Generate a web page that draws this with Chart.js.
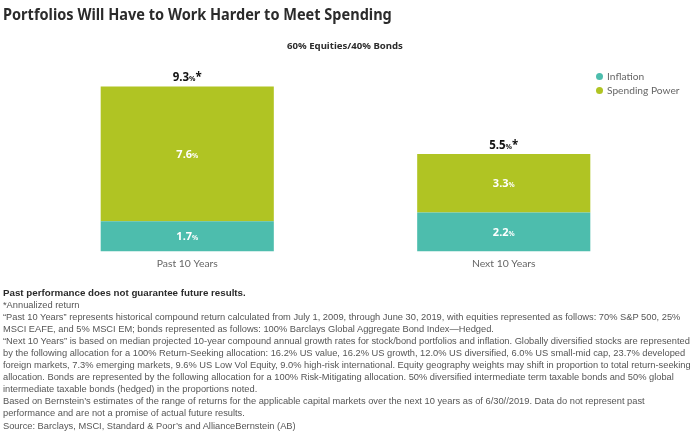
<!DOCTYPE html>
<html>
<head>
<meta charset="utf-8">
<title>Portfolios Will Have to Work Harder to Meet Spending</title>
<script src="https://cdn.jsdelivr.net/npm/chart.js@4"></script>
<style>
  html, body { margin: 0; padding: 0; background: #fff; width: 690px; height: 433px; overflow: hidden; }
  #wrap { position: absolute; left: 0; top: 0; width: 690px; height: 433px; }
  #title { position: absolute; left: 3px; top: 2px; font: bold 16.6px "Noto Sans", sans-serif; color: #2b2b2b; white-space: nowrap; transform: scaleX(0.875); transform-origin: left top; }
  #subtitle { position: absolute; left: 0; width: 690px; top: 39px; text-align: center; font: bold 9.6px "Noto Sans", sans-serif; color: #2b2b2b; }
  #legend { position: absolute; left: 596px; top: 69px; font: 10.2px Lato, sans-serif; color: #666; }
  #legend div { height: 14.3px; line-height: 14.3px; white-space: nowrap; }
  #legend i { display: inline-block; width: 7px; height: 7px; border-radius: 50%; margin-right: 4px; }
  #notes { position: absolute; left: 3px; top: 287px; font: 9.3px/12.05px "Liberation Sans", sans-serif; color: #555; white-space: nowrap; }
  #notes b { color: #2b2b2b; font-size: 9.75px; }
</style>
</head>
<body>
<div id="wrap">
  <canvas id="chart" width="690" height="433"></canvas>
  <div id="title">Portfolios Will Have to Work Harder to Meet Spending</div>
  <div id="subtitle">60% Equities/40% Bonds</div>
  <div id="legend"></div>
  <div id="notes"></div>
</div>
<script>
const categories = ['Past 10 Years', 'Next 10 Years'];
const inflation = [1.7, 2.2];
const spendingPower = [7.6, 3.3];
const totals = [9.3, 5.5];
const seriesNames = ['Inflation', 'Spending Power'];
const seriesColors = ['#4DBDAD', '#B0C423'];
const footnotes = [
  '<b>Past performance does not guarantee future results.</b>',
  '*Annualized return',
  '\u201cPast 10 Years\u201d represents historical compound return calculated from July 1, 2009, through June 30, 2019, with equities represented as follows: 70% S&amp;P 500, 25%',
  'MSCI EAFE, and 5% MSCI EM; bonds represented as follows: 100% Barclays Global Aggregate Bond Index\u2014Hedged.',
  '\u201cNext 10 Years\u201d is based on median projected 10-year compound annual growth rates for stock/bond portfolios and inflation. Globally diversified stocks are represented',
  'by the following allocation for a 100% Return-Seeking allocation: 16.2% US value, 16.2% US growth, 12.0% US diversified, 6.0% US small-mid cap, 23.7% developed',
  'foreign markets, 7.3% emerging markets, 9.6% US Low Vol Equity, 9.0% high-risk international. Equity geography weights may shift in proportion to total return-seeking',
  'allocation. Bonds are represented by the following allocation for a 100% Risk-Mitigating allocation. 50% diversified intermediate term taxable bonds and 50% global',
  'intermediate taxable bonds (hedged) in the proportions noted.',
  'Based on Bernstein\u2019s estimates of the range of returns for the applicable capital markets over the next 10 years as of 6/30//2019. Data do not represent past',
  'performance and are not a promise of actual future results.',
  'Source: Barclays, MSCI, Standard &amp; Poor\u2019s and AllianceBernstein (AB)'
];

document.getElementById('notes').innerHTML = footnotes.join('<br>');
document.getElementById('legend').innerHTML = seriesNames
  .map((name, i) => `<div><i style="background:${seriesColors[i]}"></i>${name}</div>`)
  .join('');

// value text with a smaller % sign, optional trailing star
function drawValue(ctx, x, y, value, color, size, star) {
  const num = value.toFixed(1);
  const big = `bold ${size}px "Noto Sans", sans-serif`;
  const small = `bold ${size * 0.62}px "Noto Sans", sans-serif`;
  ctx.textBaseline = 'alphabetic';
  ctx.textAlign = 'left';
  ctx.font = big;
  const w1 = ctx.measureText(num).width;
  const w3 = star ? ctx.measureText('*').width : 0;
  ctx.font = small;
  const w2 = ctx.measureText('%').width;
  let px = x - (w1 + w2 + w3) / 2;
  ctx.fillStyle = color;
  ctx.font = big;
  ctx.fillText(num, px, y);
  px += w1;
  ctx.font = small;
  ctx.fillText('%', px, y);
  px += w2;
  if (star) {
    ctx.font = big;
    ctx.fillText('*', px, y);
  }
}

const valueLabels = {
  id: 'valueLabels',
  afterDatasetsDraw(chart) {
    const ctx = chart.ctx;
    ctx.save();
    chart.data.datasets.forEach((ds, d) => {
      chart.getDatasetMeta(d).data.forEach((bar, i) => {
        const mid = (bar.y + bar.base) / 2;
        drawValue(ctx, bar.x, mid + 4, ds.data[i], '#fff', 11, false);
      });
    });
    const top = chart.getDatasetMeta(1).data;
    top.forEach((bar, i) => drawValue(ctx, bar.x, bar.y - 5, totals[i], '#111', 11.5, true));
    ctx.restore();
  }
};

new Chart(document.getElementById('chart').getContext('2d'), {
  type: 'bar',
  data: {
    labels: categories,
    datasets: [
      { label: seriesNames[0], data: inflation, backgroundColor: seriesColors[0] },
      { label: seriesNames[1], data: spendingPower, backgroundColor: seriesColors[1] }
    ]
  },
  options: {
    responsive: false,
    animation: false,
    layout: { padding: { left: 29, right: 28, top: 74, bottom: 157 } },
    datasets: { bar: { categoryPercentage: 1, barPercentage: 0.547 } },
    scales: {
      x: {
        stacked: true,
        grid: { display: false, drawTicks: false },
        border: { display: false },
        ticks: { color: '#666', padding: 6, font: { family: 'Lato', size: 10.4 } }
      },
      y: { stacked: true, display: false, min: 0, max: 10 }
    },
    plugins: { legend: { display: false }, tooltip: { enabled: false } }
  },
  plugins: [valueLabels]
});
</script>
</body>
</html>
